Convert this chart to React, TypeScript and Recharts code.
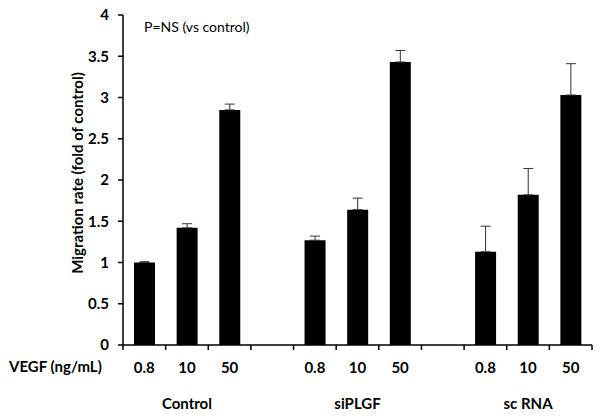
import { Bar, BarChart, ErrorBar, Label, XAxis, YAxis } from "recharts";

const groups = ["Control", "siPLGF", "sc RNA"];
const doses = ["0.8", "10", "50"];
const controlMean = [1.0, 1.42, 2.85];
const controlErr = [0.01, 0.05, 0.07];
const siPLGFMean = [1.27, 1.64, 3.43];
const siPLGFErr = [0.05, 0.14, 0.14];
const scRNAMean = [1.13, 1.82, 3.03];
const scRNAErr = [0.31, 0.32, 0.38];
const yTicks = [0, 0.5, 1, 1.5, 2, 2.5, 3, 3.5, 4];

const means = [controlMean, siPLGFMean, scRNAMean];
const errs = [controlErr, siPLGFErr, scRNAErr];

type Row = { id: string; dose: string; group: string; mid: boolean; value: number | null; err: number[] };
const rows: Row[] = [];
groups.forEach((g, gi) => {
  doses.forEach((d, di) => {
    rows.push({ id: `${g}-${d}`, dose: d, group: g, mid: di === 1, value: means[gi][di], err: [0, errs[gi][di]] });
  });
  if (gi < groups.length - 1)
    rows.push({ id: `gap-${gi}`, dose: "", group: "", mid: false, value: null, err: [0, 0] });
});

const font = "Lato, 'Open Sans', sans-serif";

function DoseTick(props: any) {
  const { x, y, payload, index } = props;
  const i = payload.index ?? index;
  const row = rows[i];
  const half = payload.offset ?? 0;
  const last = i === rows.length - 1;
  return (
    <g>
      <line x1={x - half} x2={x - half} y1={y} y2={y + 5} stroke="#000" strokeWidth={1.5} />
      {last && <line x1={x + half} x2={x + half} y1={y} y2={y + 5} stroke="#000" strokeWidth={1.5} />}
      <text x={x} y={y + 28} textAnchor="middle" fontFamily={font} fontWeight={700} fontSize={15} fill="#000">
        {row?.dose}
      </text>
      {row?.mid && (
        <text x={x} y={y + 64} textAnchor="middle" fontFamily={font} fontWeight={700} fontSize={15} fill="#000">
          {row.group}
        </text>
      )}
    </g>
  );
}

export default function App() {
  return (
    <div style={{ position: "absolute", left: 0, top: 0, width: 602, height: 418, background: "#fff" }}>
      <BarChart width={602} height={418} data={rows} margin={{ top: 15, right: 10, left: 60, bottom: 0 }}>
        <XAxis
          dataKey="id"
          height={73}
          interval={0}
          tickLine={false}
          tickSize={0}
          tickMargin={0}
          axisLine={{ stroke: "#000", strokeWidth: 1.5 }}
          tick={<DoseTick />}
        />
        <YAxis
          domain={[0, 4]}
          ticks={yTicks}
          width={63}
          tickSize={5}
          tickMargin={9}
          axisLine={{ stroke: "#000", strokeWidth: 1.5 }}
          tickLine={{ stroke: "#000", strokeWidth: 1.5 }}
          tick={{ fill: "#000", fontSize: 15, fontWeight: 700, fontFamily: font }}
        >
          <Label
            content={({ viewBox }: any) => {
              const cx = viewBox.x + 17;
              const cy = viewBox.y + viewBox.height / 2 - 7;
              return (
                <text
                  x={cx}
                  y={cy}
                  transform={`rotate(-90 ${cx} ${cy})`}
                  textAnchor="middle"
                  dominantBaseline="central"
                  fontFamily={font}
                  fontWeight={700}
                  fontSize={15}
                  fill="#000"
                >
                  Migration rate (fold of control)
                </text>
              );
            }}
          />
        </YAxis>
        <Bar dataKey="value" fill="#000" barSize={21} isAnimationActive={false}>
          <ErrorBar dataKey="err" direction="y" width={5} stroke="#333" strokeWidth={1} />
        </Bar>
      </BarChart>
      <div
        style={{
          position: "absolute",
          left: 9,
          top: 357,
          fontFamily: font,
          fontWeight: 700,
          fontSize: 15,
          color: "#000",
          whiteSpace: "nowrap",
        }}
      >
        VEGF (ng/mL)
      </div>
      <div
        style={{
          position: "absolute",
          left: 144,
          top: 18,
          fontFamily: font,
          fontSize: 14,
          color: "#000",
          whiteSpace: "nowrap",
        }}
      >
        P=NS (vs control)
      </div>
    </div>
  );
}
